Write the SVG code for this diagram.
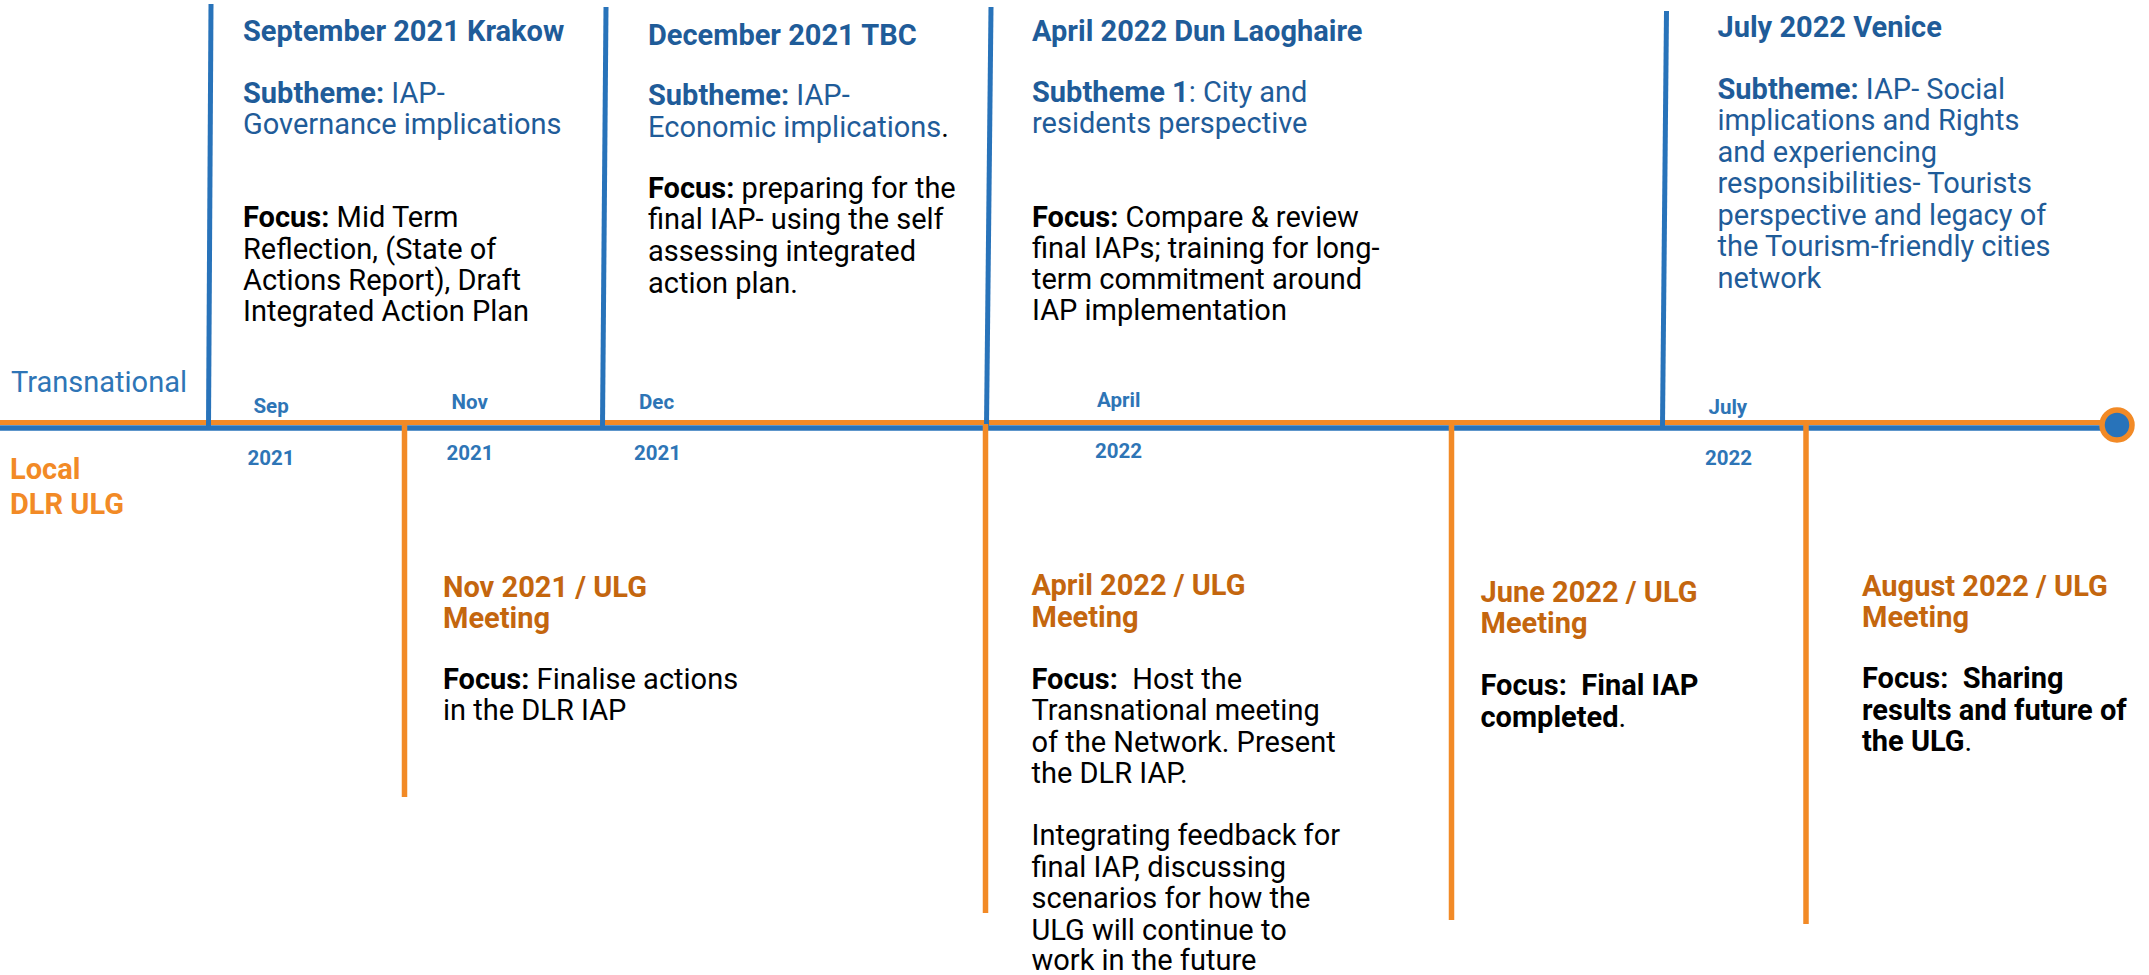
<svg xmlns="http://www.w3.org/2000/svg" width="2149" height="975" viewBox="0 0 2149 975">
<style>
text{font-family:Roboto,"Liberation Sans",sans-serif;font-size:29px}
.b{font-weight:700}
.hd{fill:#1F5C99;font-weight:700}
.sb{fill:#1F5C99}
.blk{fill:#000}
.mon{font-size:20.5px;font-weight:700;fill:#2E75B6}
.lt{fill:#2E75B6}
.ll{fill:#F28A26;font-weight:700}
.mh{fill:#C4660E;font-weight:700}
.vb{stroke:#2873BA;stroke-width:5;fill:none}
.vo{stroke:#F28A26;stroke-width:5.5;fill:none}
</style>
<rect width="2149" height="975" fill="#fff"/>
<g id="connectors">
<line x1="0" y1="428" x2="2105" y2="428" stroke="#2873BA" stroke-width="5.5"/>
<line x1="0" y1="422.5" x2="2105" y2="422.5" stroke="#F28A26" stroke-width="5"/>
<line class="vb" x1="211" y1="4" x2="208.5" y2="426"/>
<line class="vb" x1="606" y1="7" x2="602.5" y2="426"/>
<line class="vb" x1="991" y1="7" x2="986.5" y2="426"/>
<line class="vb" x1="1666.5" y1="11" x2="1662.5" y2="426"/>
<line class="vo" x1="404.5" y1="424" x2="404.5" y2="797"/>
<line class="vo" x1="985.5" y1="424" x2="985.5" y2="913"/>
<line class="vo" x1="1451.5" y1="424" x2="1451.5" y2="920"/>
<line class="vo" x1="1806" y1="424" x2="1806" y2="924"/>
<circle cx="2117" cy="425" r="15" fill="#2873BA" stroke="#F28A26" stroke-width="5.5"/>
</g>
<g id="lanes">
<text class="lt" x="11" y="391.5">Transnational</text>
<text class="ll" x="10" y="479">Local</text>
<text class="ll" x="10" y="514">DLR ULG</text>
</g>
<g id="months">
<text class="mon" x="253.5" y="412.5">Sep</text>
<text class="mon" x="247.5" y="465">2021</text>
<text class="mon" x="451.5" y="409">Nov</text>
<text class="mon" x="446.5" y="460">2021</text>
<text class="mon" x="639" y="409">Dec</text>
<text class="mon" x="634" y="460">2021</text>
<text class="mon" x="1097" y="406.5">April</text>
<text class="mon" x="1095" y="457.5">2022</text>
<text class="mon" x="1708.5" y="414">July</text>
<text class="mon" x="1705" y="464.5">2022</text>
</g>
<g id="event-sep-2021">
<text class="hd" x="243" y="41">September 2021 Krakow</text>
<text class="sb" x="243" y="102.5"><tspan class="b">Subtheme:</tspan> IAP-</text>
<text class="sb" x="243" y="133.5">Governance implications</text>
<text class="blk" x="243" y="227"><tspan class="b">Focus:</tspan> Mid Term</text>
<text class="blk" x="243" y="258.5">Reflection, (State of</text>
<text class="blk" x="243" y="289.5">Actions Report), Draft</text>
<text class="blk" x="243" y="320.5">Integrated Action Plan</text>
</g>
<g id="event-dec-2021">
<text class="hd" x="648" y="44.5">December 2021 TBC</text>
<text class="sb" x="648" y="105"><tspan class="b">Subtheme:</tspan> IAP-</text>
<text class="sb" x="648" y="136.5">Economic implications<tspan fill="#000">.</tspan></text>
<text class="blk" x="648" y="197.5"><tspan class="b">Focus:</tspan> preparing for the</text>
<text class="blk" x="648" y="229">final IAP- using the self</text>
<text class="blk" x="648" y="261">assessing integrated</text>
<text class="blk" x="648" y="292.5">action plan.</text>
</g>
<g id="event-apr-2022">
<text class="hd" x="1032" y="41">April 2022 Dun Laoghaire</text>
<text class="sb" x="1032" y="101.5"><tspan class="b">Subtheme 1</tspan>: City and</text>
<text class="sb" x="1032" y="132.5">residents perspective</text>
<text class="blk" x="1032" y="226.5"><tspan class="b">Focus:</tspan> Compare &amp; review</text>
<text class="blk" x="1032" y="257.5">final IAPs; training for long-</text>
<text class="blk" x="1032" y="288.5">term commitment around</text>
<text class="blk" x="1032" y="320">IAP implementation</text>
</g>
<g id="event-jul-2022">
<text class="hd" x="1717.5" y="37">July 2022 Venice</text>
<text class="sb" x="1717.5" y="98.5"><tspan class="b">Subtheme:</tspan> IAP- Social</text>
<text class="sb" x="1717.5" y="130">implications and Rights</text>
<text class="sb" x="1717.5" y="161.5">and experiencing</text>
<text class="sb" x="1717.5" y="193">responsibilities- Tourists</text>
<text class="sb" x="1717.5" y="224.5">perspective and legacy of</text>
<text class="sb" x="1717.5" y="256">the Tourism-friendly cities</text>
<text class="sb" x="1717.5" y="287.5">network</text>
</g>
<g id="ulg-nov-2021">
<text class="mh" x="443" y="596.5">Nov 2021 / ULG</text>
<text class="mh" x="443" y="627.5">Meeting</text>
<text class="blk" x="443" y="688.5"><tspan class="b">Focus:</tspan> Finalise actions</text>
<text class="blk" x="443" y="720">in the DLR IAP</text>
</g>
<g id="ulg-apr-2022">
<text class="mh" x="1031.5" y="595">April 2022 / ULG</text>
<text class="mh" x="1031.5" y="626.5">Meeting</text>
<text class="blk" x="1031.5" y="688.5" xml:space="preserve"><tspan class="b">Focus:</tspan>  Host the</text>
<text class="blk" x="1031.5" y="720">Transnational meeting</text>
<text class="blk" x="1031.5" y="751.5">of the Network. Present</text>
<text class="blk" x="1031.5" y="783">the DLR IAP.</text>
<text class="blk" x="1031.5" y="845">Integrating feedback for</text>
<text class="blk" x="1031.5" y="876.5">final IAP, discussing</text>
<text class="blk" x="1031.5" y="908">scenarios for how the</text>
<text class="blk" x="1031.5" y="939.5">ULG will continue to</text>
<text class="blk" x="1031.5" y="970">work in the future</text>
</g>
<g id="ulg-jun-2022">
<text class="mh" x="1480.5" y="601.5">June 2022 / ULG</text>
<text class="mh" x="1480.5" y="633">Meeting</text>
<text class="blk b" x="1480.5" y="695" xml:space="preserve">Focus:  Final IAP</text>
<text class="blk" x="1480.5" y="726.5"><tspan class="b">completed</tspan>.</text>
</g>
<g id="ulg-aug-2022">
<text class="mh" x="1862" y="596">August 2022 / ULG</text>
<text class="mh" x="1862" y="627">Meeting</text>
<text class="blk b" x="1862" y="688" xml:space="preserve">Focus:  Sharing</text>
<text class="blk b" x="1862" y="719.5">results and future of</text>
<text class="blk" x="1862" y="750.5"><tspan class="b">the ULG</tspan>.</text>
</g>
</svg>
